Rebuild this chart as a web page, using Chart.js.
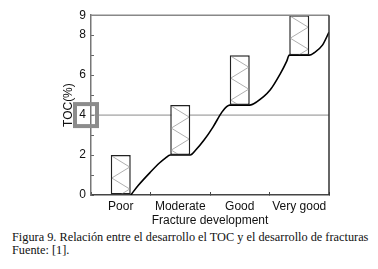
<!DOCTYPE html>
<html>
<head>
<meta charset="utf-8">
<script src="https://cdn.jsdelivr.net/npm/chart.js@4.4.0/dist/chart.umd.min.js"></script>
<style>
  body { margin: 0; background: #fff; }
  #wrap { position: relative; width: 378px; height: 269px; }
  #box { position: absolute; left: 0; top: 0; width: 378px; height: 230px; }
  #caption {
    position: absolute; left: 12px; top: 231px;
    font-family: "Liberation Serif", "Times New Roman", serif;
    font-size: 12.3px; line-height: 12.5px; color: #111; white-space: nowrap;
  }
</style>
</head>
<body>
<div id="wrap">
  <div id="box"><canvas id="chart-toc"></canvas></div>
  <div id="caption">Figura 9. Relación entre el desarrollo el TOC y el desarrollo de fracturas<br>Fuente: [1].</div>
</div>
<script>
// categories and TOC ranges (boxes)
const categories = ['Poor', 'Moderate', 'Good', 'Very good'];
const boxLow  = [0, 2, 4.5, 7];
const boxHigh = [2, 4.5, 7, 9];

// trend curve, x in category units (0 = Poor, 1 = Moderate, ...)
const curveX = [0.168, 0.3, 0.5, 0.65, 0.75, 0.832,
                1.168, 1.26, 1.4, 1.55, 1.7, 1.78, 1.832,
                2.168, 2.28, 2.51, 2.68, 2.79, 2.832,
                3.168, 3.25, 3.39, 3.5];
const curveY = [0, 0.5, 1.15, 1.6, 1.85, 2,
                2, 2.25, 2.75, 3.4, 4.15, 4.42, 4.5,
                4.5, 4.65, 5.25, 6.06, 6.7, 7,
                7, 7.12, 7.5, 8.15];

const refLevel = 4;
const yLabels = [0, 2, 4, 6, 8, 9];

const sansFont = { family: "'Liberation Sans', Arial, sans-serif", size: 12 };

// zigzag hatch inside the boxes, top/right frame, gray highlight on the "4" label
const hatchPlugin = {
    id: 'hatch',
    afterDatasetsDraw(chart) {
        const ctx = chart.ctx;
        const meta = chart.getDatasetMeta(0);
        meta.data.forEach((bar) => {
            const left = bar.x - bar.width / 2 + 1;
            const right = bar.x + bar.width / 2 - 1;
            const top = Math.min(bar.y, bar.base) + 1;
            const bottom = Math.max(bar.y, bar.base) - 1;
            ctx.save();
            ctx.beginPath();
            ctx.rect(left, top, right - left, bottom - top);
            ctx.clip();
            ctx.strokeStyle = '#9a9a9a';
            ctx.lineWidth = 0.8;
            ctx.beginPath();
            let y = top;
            ctx.moveTo(left, y);
            let toRight = true;
            while (y < bottom + 12) {
                y += 11;
                ctx.lineTo(toRight ? right : left, y);
                toRight = !toRight;
            }
            ctx.stroke();
            ctx.restore();
        });
    },
    afterDraw(chart) {
        const ctx = chart.ctx;
        const a = chart.chartArea;
        ctx.save();
        ctx.lineWidth = 1.5;
        ctx.strokeStyle = '#888';
        ctx.beginPath();
        ctx.moveTo(a.left, a.top);
        ctx.lineTo(a.right, a.top);
        ctx.stroke();
        ctx.strokeStyle = '#333';
        ctx.beginPath();
        ctx.moveTo(a.right, a.top);
        ctx.lineTo(a.right, a.bottom);
        ctx.stroke();

        const y = chart.scales.y.getPixelForValue(refLevel);
        const x = a.left - 5;
        ctx.strokeStyle = '#8c8c8c';
        ctx.lineWidth = 4;
        ctx.strokeRect(x - 11, y - 11, 22, 22);
        ctx.restore();
    }
};

const chartToc = new Chart(document.getElementById('chart-toc'), {
    type: 'bar',
    data: {
        labels: categories,
        datasets: [{
            label: 'TOC',
            data: categories.map((c, i) => [boxLow[i], boxHigh[i]]),
            backgroundColor: '#ffffff',
            borderColor: '#222',
            borderWidth: 1.5,
            borderSkipped: false,
            grouped: false,
            barPercentage: 0.336,
            categoryPercentage: 1,
            xAxisID: 'x',
            yAxisID: 'y',
            order: 0
        }, {
            type: 'line',
            label: 'trend',
            data: curveX.map((x, i) => ({ x: x, y: curveY[i] })),
            borderColor: '#000',
            borderWidth: 1.6,
            pointRadius: 0,
            cubicInterpolationMode: 'monotone',
            fill: false,
            xAxisID: 'xLin',
            yAxisID: 'y',
            order: 1
        }, {
            type: 'line',
            label: 'ref',
            data: [{ x: -0.5, y: refLevel }, { x: 3.5, y: refLevel }],
            borderColor: '#8a8a8a',
            borderWidth: 1,
            pointRadius: 0,
            fill: false,
            xAxisID: 'xLin',
            yAxisID: 'y',
            order: 2
        }]
    },
    options: {
        responsive: true,
        maintainAspectRatio: false,
        animation: false,
        layout: { padding: { left: 55, right: 49, top: 9, bottom: 0 } },
        scales: {
            x: {
                type: 'category',
                grid: { drawOnChartArea: false, tickLength: -3, color: '#444', lineWidth: 1 },
                border: { color: '#444', width: 1.5 },
                ticks: { font: sansFont, color: '#111', padding: 7, maxRotation: 0 },
                title: { display: true, text: 'Fracture development', font: sansFont, color: '#111', padding: { top: 0, bottom: 2 } },
                afterFit: (s) => { s.height = 35; }
            },
            xLin: {
                type: 'linear',
                display: false,
                offset: false,
                grid: { offset: false },
                min: -0.5,
                max: 3.5
            },
            y: {
                type: 'linear',
                min: 0,
                max: 9,
                grid: { drawOnChartArea: false, tickLength: -3, color: '#666' },
                border: { color: '#777', width: 1.5 },
                ticks: {
                    stepSize: 1,
                    font: sansFont,
                    color: '#111',
                    padding: 8,
                    callback: (v) => yLabels.includes(v) ? v : ''
                },
                title: { display: true, text: 'TOC(%)', font: sansFont, color: '#111', padding: { top: 6, bottom: 0 } },
                afterFit: (s) => { s.width = 36; }
            }
        },
        plugins: {
            legend: { display: false },
            tooltip: { enabled: false }
        }
    },
    plugins: [hatchPlugin]
});
</script>
</body>
</html>
